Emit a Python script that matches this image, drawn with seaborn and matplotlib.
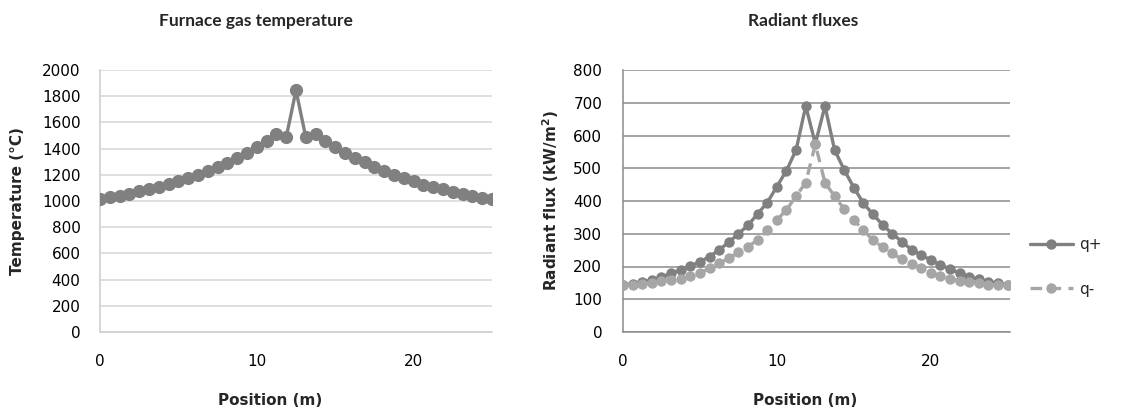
import numpy as np
import pandas as pd
import matplotlib
matplotlib.use("Agg")
import matplotlib.pyplot as plt
import seaborn as sns

# ---------------- data ----------------
position_m = [i * 0.625 for i in range(41)]

temperature_c = [1013, 1028, 1040, 1055, 1073, 1091, 1108, 1128, 1152, 1175,
                 1199, 1228, 1260, 1292, 1327, 1364, 1410, 1456, 1511, 1486,
                 1845,
                 1486, 1511, 1460, 1415, 1368, 1328, 1294, 1259, 1229, 1198,
                 1172, 1150, 1125, 1106, 1088, 1070, 1053, 1038, 1025, 1013]

q_plus = [144, 147, 153, 159, 168, 179, 190, 201, 215, 230,
          251, 274, 300, 326, 361, 395, 444, 493, 556, 690,
          575,
          690, 556, 495, 441, 393, 359, 327, 300, 276, 251,
          235, 220, 205, 192, 179, 169, 161, 154, 149, 144]

q_minus = [143, 143, 147, 151, 155, 159, 163, 171, 179, 195,
           210, 225, 243, 261, 281, 310, 342, 373, 415, 456,
           573,
           456, 415, 375, 342, 310, 281, 259, 240, 222, 208,
           194, 181, 171, 163, 157, 153, 149, 145, 143, 143]

temp_ticks = [0, 200, 400, 600, 800, 1000, 1200, 1400, 1600, 1800, 2000]
flux_ticks = [0, 100, 200, 300, 400, 500, 600, 700, 800]
x_ticks = [0, 10, 20]

df_t = pd.DataFrame({"Position (m)": position_m, "Temperature": temperature_c})
df_f = pd.DataFrame({"Position (m)": position_m, "q+": q_plus, "q-": q_minus})

# ---------------- style ----------------
sns.set_theme(style="white")
plt.rcParams["font.family"] = ["DejaVu Sans"]

W, H = 1132, 407
fig = plt.figure(figsize=(W / 100, H / 100), dpi=100)

dark = "#808080"
light = "#a6a6a6"
tick_fs = 11
label_fs = 11
title_fs = 12.5

# ---------- left: furnace gas temperature ----------
ax1 = fig.add_axes([100 / W, (H - 332) / H, 392 / W, 262 / H])
sns.lineplot(data=df_t, x="Position (m)", y="Temperature", ax=ax1,
             color=dark, linewidth=2.4, marker="o", markersize=9.5,
             markeredgewidth=0, markerfacecolor=dark, zorder=3)
ax1.set_xlim(0, 25)
ax1.set_ylim(0, 2000)
ax1.set_xticks(x_ticks)
ax1.set_yticks(temp_ticks)
ax1.grid(axis="y", color="#d9d9d9", linewidth=1.2)
ax1.grid(axis="x", visible=False)
for s in ["top", "right"]:
    ax1.spines[s].set_visible(False)
for s in ["left", "bottom"]:
    ax1.spines[s].set_color("#d0d0d0")
    ax1.spines[s].set_linewidth(1.2)
ax1.tick_params(axis="both", length=0, labelsize=tick_fs, colors="black")
ax1.tick_params(axis="x", pad=16)
ax1.tick_params(axis="y", pad=14)
ax1.set_xlabel("Position (m)", fontsize=label_fs, fontweight="bold")
ax1.set_ylabel("Temperature (°C)", fontsize=label_fs, fontweight="bold")
ax1.xaxis.set_label_coords((270 - 100) / 392, (332 - 393) / 262)
ax1.yaxis.set_label_coords((25 - 100) / 392, 0.5)
ax1.set_title("Furnace gas temperature", fontsize=title_fs, fontweight="bold",
              family=["Lato", "DejaVu Sans"], pad=0,
              x=(256 - 100) / 392, y=(332 - 21) / 262, va="center")

# ---------- right: radiant fluxes ----------
ax2 = fig.add_axes([623 / W, (H - 332) / H, 387 / W, 262 / H])
sns.lineplot(data=df_f, x="Position (m)", y="q+", ax=ax2, label="q+",
             color=dark, linewidth=2.4, marker="o", markersize=7.5,
             markeredgewidth=0, markerfacecolor=dark, zorder=3)
sns.lineplot(data=df_f, x="Position (m)", y="q-", ax=ax2, label="q-",
             color=light, linewidth=2.4, linestyle=(0, (3.5, 2.2)),
             marker="o", markersize=7.5, markeredgewidth=0,
             markerfacecolor=light, zorder=4)
ax2.set_xlim(0, 25.15)
ax2.set_ylim(0, 800)
ax2.set_xticks(x_ticks)
ax2.set_yticks(flux_ticks)
ax2.grid(axis="y", color="#8c8c8c", linewidth=1.1)
ax2.grid(axis="x", visible=False)
for s in ["top", "right"]:
    ax2.spines[s].set_visible(False)
for s in ["left", "bottom"]:
    ax2.spines[s].set_color("#8c8c8c")
    ax2.spines[s].set_linewidth(1.1)
ax2.tick_params(axis="both", direction="inout", length=8, width=1.1,
                color="#8c8c8c", labelsize=tick_fs, labelcolor="black")
ax2.tick_params(axis="x", pad=12)
ax2.tick_params(axis="y", pad=11)
ax2.set_xlabel("Position (m)", fontsize=label_fs, fontweight="bold")
ax2.set_ylabel("Radiant flux (kW/m$^\\mathbf{2}$)", fontsize=label_fs, fontweight="bold")
ax2.xaxis.set_label_coords((805 - 623) / 387, (332 - 393) / 262)
ax2.yaxis.set_label_coords((561 - 623) / 387, 0.5)
ax2.set_title("Radiant fluxes", fontsize=title_fs, fontweight="bold",
              family=["Lato", "DejaVu Sans"], pad=0,
              x=(803 - 623) / 387, y=(332 - 21) / 262, va="center")

leg = ax2.legend(loc="center left", bbox_to_anchor=(1030 / W, (H - 267) / H),
                 bbox_transform=fig.transFigure, frameon=False,
                 fontsize=tick_fs, handlelength=2.8, handletextpad=0.4,
                 labelspacing=1.9, borderaxespad=0, borderpad=0)

fig.savefig("out.png", dpi=100, facecolor="white")
